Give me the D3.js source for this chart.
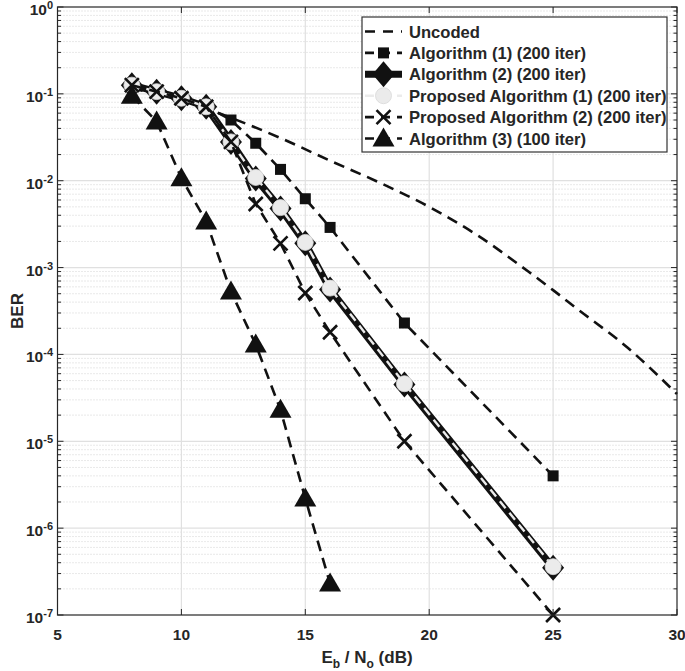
<!DOCTYPE html>
<html><head><meta charset="utf-8">
<script src="https://cdn.jsdelivr.net/npm/d3@7"></script>
<style>body{margin:0;background:#fff}svg{display:block}text{font-family:"Liberation Sans",Arial,sans-serif;font-weight:bold;fill:#262626}</style>
</head><body><svg id="c" width="685" height="671"></svg>
<script>
// ---- data ----
const xTicks = [5,10,15,20,25,30];
const yTickExps = [0,-1,-2,-3,-4,-5,-6,-7];
const legendLabels = ["Uncoded","Algorithm (1) (200 iter)","Algorithm (2) (200 iter)","Proposed Algorithm (1) (200 iter)","Proposed Algorithm (2) (200 iter)","Algorithm (3) (100 iter)"];

const uncodedX = [8,10,12,14,16,18,20,22,24,25,26,28,30];
const uncodedY = [0.115,0.085,0.053,0.031,0.017,0.0095,0.005,0.0023,0.0009,0.00055,0.00033,0.00012,0.000035];

const algX = [8,9,10,11,12,13,14,15,16,19,25];
const alg1Y = [0.12,0.105,0.088,0.072,0.05,0.027,0.0135,0.0062,0.0029,0.00023,0.000004];
const alg2Y = [0.126,0.106,0.089,0.071,0.028,0.0106,0.0048,0.0019,0.00056,0.000045,3.5e-7];
const prop1Y = [0.126,0.106,0.089,0.071,0.028,0.0109,0.0049,0.00195,0.00058,0.000046,3.6e-7];
const prop2Y = [0.126,0.106,0.089,0.071,0.028,0.0054,0.0019,0.00051,0.00018,0.00001,1e-7];

const alg3X = [8,9,10,11,12,13,14,15,16];
const alg3Y = [0.095,0.048,0.0107,0.0034,0.00053,0.00013,0.000023,0.0000022,2.3e-7];

// ---- layout ----
const L = 57.5, R = 677, T = 7, B = 615;
const svg = d3.select("#c");
const x = d3.scaleLinear().domain([5,30]).range([L,R]);
const y = d3.scaleLog().domain([1e-7,1]).range([B,T]);

// grid
const g = svg.append("g");
const minor = [];
for (let e=-7;e<0;e++) for (let k=2;k<=9;k++) minor.push(k*Math.pow(10,e));
g.selectAll(".mg").data(minor).enter().append("line")
  .attr("x1",L).attr("x2",R).attr("y1",d=>y(d)).attr("y2",d=>y(d))
  .attr("stroke","#c8c8c8").attr("stroke-width",0.8).attr("stroke-dasharray","1,2");
g.selectAll(".Mg").data(yTickExps.slice(1,-1)).enter().append("line")
  .attr("x1",L).attr("x2",R).attr("y1",d=>y(Math.pow(10,d))).attr("y2",d=>y(Math.pow(10,d)))
  .attr("stroke","#e0e0e0").attr("stroke-width",1.2);
g.selectAll(".Vg").data(xTicks.slice(1,-1)).enter().append("line")
  .attr("y1",T).attr("y2",B).attr("x1",d=>x(d)).attr("x2",d=>x(d))
  .attr("stroke","#e0e0e0").attr("stroke-width",1.2);

// ticks
const tk = svg.append("g").attr("stroke","#262626").attr("stroke-width",1);
xTicks.forEach(d=>{
  tk.append("line").attr("x1",x(d)).attr("x2",x(d)).attr("y1",B).attr("y2",B-6);
  tk.append("line").attr("x1",x(d)).attr("x2",x(d)).attr("y1",T).attr("y2",T+6);
});
yTickExps.forEach(e=>{
  const v=y(Math.pow(10,e));
  tk.append("line").attr("x1",L).attr("x2",L+6).attr("y1",v).attr("y2",v);
  tk.append("line").attr("x1",R).attr("x2",R-6).attr("y1",v).attr("y2",v);
});
minor.forEach(m=>{
  const v=y(m);
  tk.append("line").attr("x1",L).attr("x2",L+3.5).attr("y1",v).attr("y2",v);
  tk.append("line").attr("x1",R).attr("x2",R-3.5).attr("y1",v).attr("y2",v);
});

// tick labels
svg.selectAll(".xl").data(xTicks).enter().append("text")
  .attr("x",d=>x(d)).attr("y",640).attr("text-anchor","middle").attr("font-size",15.5).text(d=>d);
yTickExps.forEach(e=>{
  const t = svg.append("text").attr("x",53).attr("y",y(Math.pow(10,e))+8).attr("text-anchor","end").attr("font-size",15.5);
  t.append("tspan").text("10");
  t.append("tspan").attr("dy",-6).attr("font-size",11).text(String(e));
});

// axis labels
const xl = svg.append("text").attr("x",367).attr("y",663).attr("text-anchor","middle").attr("font-size",17);
xl.append("tspan").text("E");
xl.append("tspan").attr("dy",5).attr("font-size",12).text("b");
xl.append("tspan").attr("dy",-5).text(" / N");
xl.append("tspan").attr("dy",5).attr("font-size",12).text("o");
xl.append("tspan").attr("dy",-5).text(" (dB)");
svg.append("text").attr("transform","translate(23,311) rotate(-90)").attr("text-anchor","middle").attr("font-size",17).text("BER");

// series
const line = d3.line().x(d=>x(d[0])).y(d=>y(d[1]));
const zip = (xs,ys)=>xs.map((v,i)=>[v,ys[i]]);
const plot = svg.append("g");
function drawMarker(sel, type, cx, cy){
  if(type==="square") sel.append("rect").attr("x",cx-5.5).attr("y",cy-5.5).attr("width",11).attr("height",11).attr("fill","#111");
  else if(type==="diamond") sel.append("path").attr("d",`M${cx},${cy-13}L${cx+11},${cy}L${cx},${cy+13}L${cx-11},${cy}Z`).attr("fill","#111");
  else if(type==="circle") sel.append("circle").attr("cx",cx).attr("cy",cy).attr("r",8).attr("fill","#ebebeb").attr("stroke","#d8d8d8").attr("stroke-width",0.8);
  else if(type==="x") sel.append("path").attr("d",`M${cx-7},${cy-7}L${cx+7},${cy+7}M${cx-7},${cy+7}L${cx+7},${cy-7}`).attr("stroke","#111").attr("stroke-width",2.6).attr("fill","none");
  else if(type==="tri") sel.append("path").attr("d",`M${cx},${cy-11}L${cx+11},${cy+8}L${cx-11},${cy+8}Z`).attr("fill","#111");
}
const series = [
  {xs:uncodedX, ys:uncodedY, color:"#111", w:2.6, dash:"11,7", marker:null},
  {xs:algX, ys:alg1Y, color:"#111", w:2.6, dash:"11,7", marker:"square"},
  {xs:algX, ys:alg2Y, color:"#111", w:7, dash:null, marker:"diamond"},
  {xs:algX, ys:prop1Y, color:"#ebebeb", w:2.4, dash:"9,6", marker:"circle"},
  {xs:algX, ys:prop2Y, color:"#111", w:2.6, dash:"11,7", marker:"x"},
  {xs:alg3X, ys:alg3Y, color:"#111", w:2.6, dash:"11,7", marker:"tri"}
];
series.forEach(s=>{
  const pts = zip(s.xs,s.ys);
  plot.append("path").attr("d",d3.line().curve(s.marker?d3.curveLinear:d3.curveMonotoneX).x(d=>x(d[0])).y(d=>y(d[1]))(pts))
    .attr("fill","none").attr("stroke",s.color).attr("stroke-width",s.w)
    .attr("stroke-dasharray",s.dash).attr("stroke-linejoin","round");
  if(s.marker) pts.forEach(p=>drawMarker(plot,s.marker,x(p[0]),y(p[1])));
});

// axes box
svg.append("rect").attr("x",L).attr("y",T).attr("width",R-L).attr("height",B-T).attr("fill","none").attr("stroke","#262626").attr("stroke-width",1.2);

// legend
const lg = svg.append("g");
lg.append("rect").attr("x",362).attr("y",17).attr("width",305).attr("height",135).attr("fill","#fff").attr("stroke","#333").attr("stroke-width",1.2);
legendLabels.forEach((lab,i)=>{
  const s = series[i];
  const cy = 31.5 + i*21.4;
  lg.append("line").attr("x1",365).attr("x2",402).attr("y1",cy).attr("y2",cy).attr("stroke",s.color)
    .attr("stroke-width",s.w).attr("stroke-dasharray",s.dash ? (i===0?"10,8":"9,7"):null);
  if(s.marker) drawMarker(lg,s.marker,383.5,cy);
  lg.append("text").attr("x",409).attr("y",cy+6).attr("font-size",16.6).text(lab);
});
</script></body></html>
